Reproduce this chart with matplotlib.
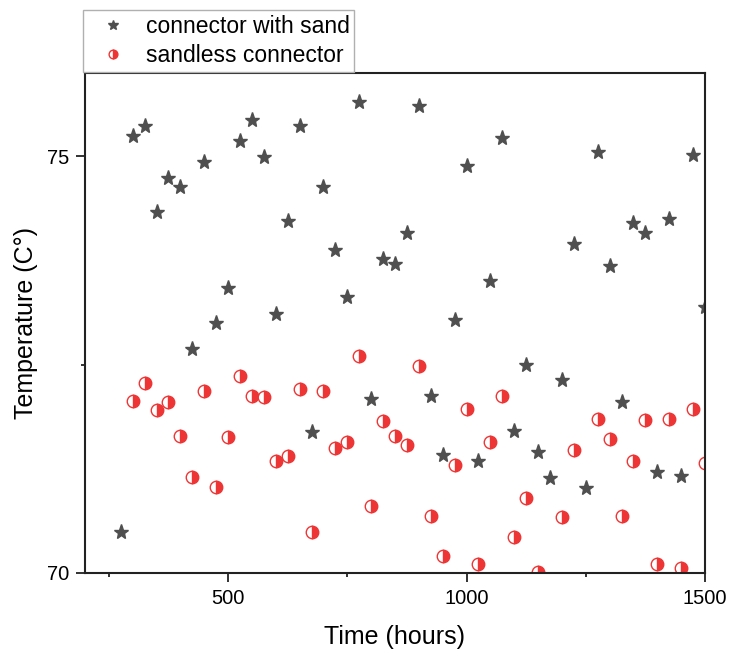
import matplotlib
matplotlib.use("Agg")
import matplotlib.pyplot as plt
from matplotlib.ticker import MultipleLocator

plt.rcParams["font.family"] = ["Liberation Sans", "DejaVu Sans"]

# connector with sand: every 25 h from 275 to 1500
sand_time = list(range(275, 1501, 25))
sand_temp = [
    70.49, 75.24, 75.37, 74.33, 74.74, 74.63, 72.69, 74.93, 73.00, 73.42,
    75.19, 75.44, 74.99, 73.11, 74.22, 75.36, 71.69, 74.63, 73.88, 73.31,
    75.65, 72.09, 73.77, 73.71, 74.08, 75.60, 72.13, 71.42, 73.04, 74.88,
    71.35, 73.50, 75.22, 71.70, 72.50, 71.45, 71.14, 72.32, 73.95, 71.02,
    75.05, 73.68, 72.05, 74.20, 74.08, 71.21, 74.25, 71.17, 75.02, 73.19,
]

# sandless connector (points below 70 are not visible)
bare_time = [300, 325, 350, 375, 400, 425, 450, 475, 500, 525,
             550, 575, 600, 625, 650, 675, 700, 725, 750, 775,
             800, 825, 850, 875, 900, 925, 950, 975, 1000, 1025,
             1050, 1075, 1100, 1125, 1150, 1200, 1225, 1275, 1300, 1325,
             1350, 1375, 1400, 1425, 1450, 1475, 1500]
bare_temp = [72.07, 72.28, 71.96, 72.05, 71.65, 71.15, 72.19, 71.03, 71.63, 72.36,
             72.12, 72.11, 71.35, 71.41, 72.21, 70.49, 72.18, 71.50, 71.57, 72.61,
             70.81, 71.82, 71.65, 71.54, 72.48, 70.68, 70.20, 71.29, 71.97, 70.11,
             71.57, 72.13, 70.43, 70.90, 70.01, 70.67, 71.48, 71.85, 71.61, 70.68,
             71.34, 71.84, 70.11, 71.85, 70.06, 71.97, 71.32]

fig = plt.figure(figsize=(7.29, 6.53), dpi=100)
ax = fig.add_axes([85 / 729, 80 / 653, 620 / 729, 500 / 653])

ax.plot(sand_time, sand_temp, ls="none", marker="*", ms=11,
        color="#4f4f4f", mec="#4f4f4f", label="connector with sand")
ax.plot(bare_time, bare_temp, ls="none", marker="o", ms=9, fillstyle="right",
        mfc="#ee3535", mfcalt="white", mec="#ee3535", mew=1.0,
        label="sandless connector")

ax.set_xlim(200, 1500)
ax.set_ylim(70, 76)
ax.xaxis.set_major_locator(MultipleLocator(500))
ax.xaxis.set_minor_locator(MultipleLocator(250))
ax.yaxis.set_major_locator(MultipleLocator(5))
ax.yaxis.set_minor_locator(MultipleLocator(2.5))
ax.tick_params(which="both", direction="out", top=False, right=False,
               width=1.3, color="#222")
ax.tick_params(which="major", length=6.5, labelsize=14.5, pad=5)
ax.tick_params(which="minor", length=3)
for s in ax.spines.values():
    s.set_linewidth(1.5)
    s.set_color("#222")

ax.set_xlabel("Time (hours)", fontsize=18, labelpad=12)
ax.set_ylabel("Temperature (C°)", fontsize=18, labelpad=6)

leg = fig.legend(loc="lower left", bbox_to_anchor=(83 / 729, 581 / 653),
                 bbox_transform=fig.transFigure, borderaxespad=0,
                 fontsize=16.5, markerscale=0.7, fancybox=False,
                 edgecolor="#b0b0b0", framealpha=1, borderpad=0.2,
                 labelspacing=0.3, handlelength=2.2, handletextpad=0.35)
leg.get_frame().set_linewidth(1.0)

fig.savefig("out.png", dpi=100)
